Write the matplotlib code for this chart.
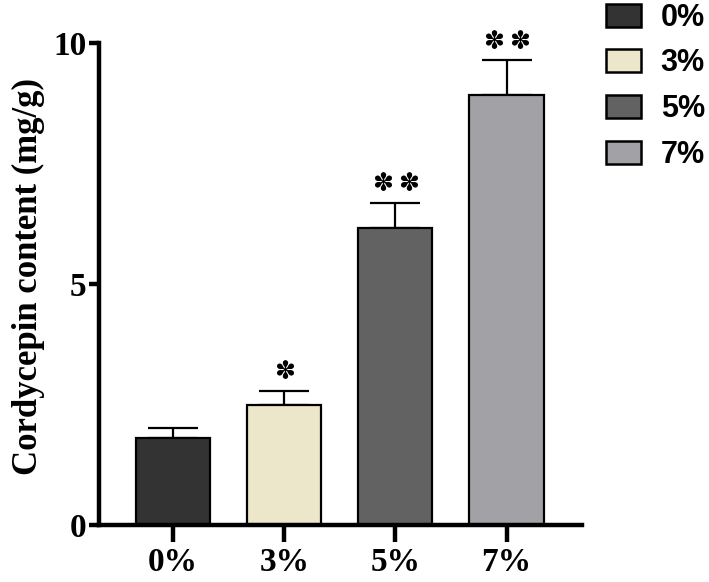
import numpy as np
import matplotlib.pyplot as plt
from matplotlib.patches import Patch

# data
groups = ['0%', '3%', '5%', '7%']
means = [1.80, 2.49, 6.17, 8.92]
errors = [0.21, 0.29, 0.51, 0.72]
n_stars = [0, 1, 2, 2]
colors = ['#333333', '#ECE6CA', '#626262', '#A2A1A6']

fig = plt.figure(figsize=(7.09, 5.82), dpi=100)
ax = fig.add_axes([0.1396, 0.0979, 0.6814, 0.8282])

x = np.arange(len(groups))
ax.bar(x, means, width=0.667, color=colors, edgecolor='black', linewidth=1.6, zorder=2)
ax.errorbar(x, means, yerr=[np.zeros(len(errors)), errors], fmt='none',
            ecolor='black', elinewidth=1.6, capsize=18, capthick=1.6, zorder=1)

# significance stars
for xi, m, e, k in zip(x, means, errors, n_stars):
    offs = [0.0] if k == 1 else ([-0.115, 0.115] if k == 2 else [])
    for o in offs:
        ax.text(xi + o, m + e + 0.14, '\u273D', ha='center', va='bottom', fontsize=18,
                fontfamily='DejaVu Sans', color='black')

ax.set_xlim(-0.667, 3.68)
ax.set_ylim(0, 10)
ax.set_yticks([0, 5, 10])
ax.set_xticks(x)
ax.set_xticklabels(groups)
for lab in ax.get_xticklabels() + ax.get_yticklabels():
    lab.set_fontfamily('Liberation Serif')
    lab.set_fontweight('bold')
    lab.set_fontsize(24)

ax.set_ylabel('Cordycepin content (mg/g)', fontfamily='Liberation Serif',
              fontweight='bold', fontsize=25)
ax.yaxis.set_label_coords(-0.112, 0.515)

ax.spines['top'].set_visible(False)
ax.spines['right'].set_visible(False)
ax.spines['left'].set_linewidth(3.2)
ax.spines['bottom'].set_linewidth(3.2)
ax.tick_params(axis='x', length=12, width=3.2, pad=4)
ax.tick_params(axis='y', length=7, width=3.2, pad=2)

handles = [Patch(facecolor=c, edgecolor='black', linewidth=1.8) for c in colors]
fig.legend(handles, groups, loc='upper left', bbox_to_anchor=(606 / 709, 0.995),
           frameon=False, handlelength=1.14, handleheight=0.78,
           labelspacing=0.51, handletextpad=0.65, borderpad=0.0, borderaxespad=0.0,
           prop={'family': 'Liberation Sans', 'weight': 'bold', 'size': 22})

fig.savefig('out.png', dpi=100)
